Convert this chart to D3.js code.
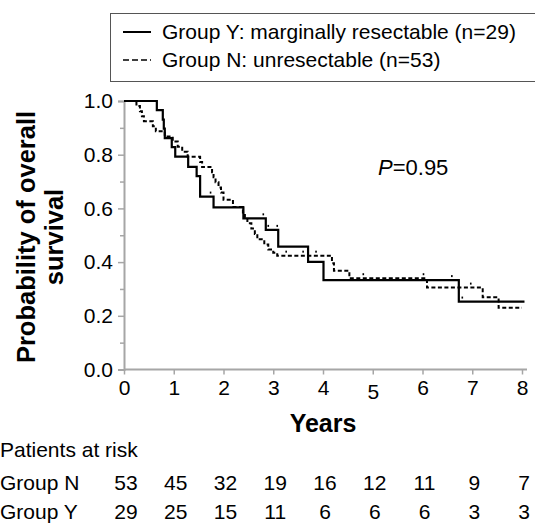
<!DOCTYPE html>
<html>
<head>
<meta charset="utf-8">
<script src="https://cdn.jsdelivr.net/npm/d3@7"></script>
<style>
  html, body { margin: 0; padding: 0; background: #fff; }
  svg { display: block; font-family: "Liberation Sans", Arial, sans-serif; }
</style>
</head>
<body>
<svg id="chart" width="535" height="525"></svg>
<script>
// ---- data ----
const xTicks = [0, 1, 2, 3, 4, 5, 6, 7, 8];
const yTicksMajor = [0, 0.2, 0.4, 0.6, 0.8, 1.0];
const yTicksMinor = [0.1, 0.3, 0.5, 0.7, 0.9];

// Group Y: marginally resectable (solid)
const groupYTimes = [0, 0.66, 0.78, 0.80, 0.82, 0.96, 1.03, 1.29, 1.46, 1.53, 1.80, 2.40, 2.85, 3.10, 3.70, 4.01, 6.73, 8.05];
const groupYSurv  = [1, 0.966, 0.931, 0.897, 0.862, 0.828, 0.793, 0.755, 0.72, 0.644, 0.604, 0.563, 0.52, 0.458, 0.401, 0.333, 0.253, 0.253];
const groupYCensor = [1.74, 2.80, 2.90, 3.08, 6.59, 6.80];

// Group N: unresectable (dashed)
const groupNTimes = [0, 0.25, 0.32, 0.36, 0.40, 0.58, 0.64, 0.82, 0.98, 1.08, 1.17, 1.28, 1.53, 1.57, 1.77, 1.80, 1.84, 1.90, 1.95, 2.00, 2.19, 2.39, 2.43, 2.48, 2.56, 2.63, 2.68, 2.82, 2.90, 3.00, 3.08, 4.18, 4.22, 4.53, 6.09, 7.21, 7.53, 8.00];
const groupNSurv  = [1, 0.981, 0.962, 0.943, 0.925, 0.906, 0.887, 0.868, 0.849, 0.83, 0.811, 0.792, 0.773, 0.754, 0.735, 0.716, 0.697, 0.678, 0.659, 0.632, 0.605, 0.585, 0.565, 0.545, 0.525, 0.505, 0.485, 0.466, 0.447, 0.435, 0.424, 0.396, 0.368, 0.34, 0.305, 0.269, 0.23, 0.23];
const groupNCensor = [3.26, 3.60, 3.86, 4.81, 6.02, 6.97];

const riskGroups = ["Group N", "Group Y"];
const riskN = [53, 45, 32, 19, 16, 12, 11, 9, 7];
const riskY = [29, 25, 15, 11, 6, 6, 6, 3, 3];

const legendLabels = ["Group Y: marginally resectable (n=29)", "Group N: unresectable (n=53)"];
const pValueText = "0.95";

// ---- drawing ----
const svg = d3.select("#chart");
const x = d3.scaleLinear().domain([0, 8]).range([124, 522]);
const y = d3.scaleLinear().domain([0, 1]).range([369.5, 101]);
const axisColor = "#a6a6a6";
const fs = 21;

// y axis
const yAxisG = svg.append("g").attr("transform", `translate(${x(0)},0)`);
yAxisG.call(d3.axisLeft(y).tickValues(yTicksMajor).tickSize(6).tickFormat(d3.format(".1f")).tickPadding(5));
yAxisG.append("g").call(d3.axisLeft(y).tickValues(yTicksMinor).tickSize(4).tickFormat(""))
  .select(".domain").remove();
yAxisG.selectAll(".domain").attr("stroke", axisColor).attr("stroke-width", 2);
yAxisG.selectAll(".tick line").attr("stroke", axisColor).attr("stroke-width", 1.5);
yAxisG.selectAll(".tick text").attr("font-size", fs).attr("fill", "#000")
  .attr("font-family", "Liberation Sans, Arial, sans-serif");

// x axis
const xAxisG = svg.append("g").attr("transform", `translate(0,${y(0)})`);
xAxisG.call(d3.axisBottom(x).tickValues(xTicks).tickSize(5).tickFormat(d3.format("d")).tickPadding(6));
xAxisG.select(".domain").attr("stroke", axisColor).attr("stroke-width", 2)
  .attr("d", `M${x(0)},0H${x(8) + 5}`);
xAxisG.selectAll(".tick line").attr("stroke", axisColor).attr("stroke-width", 1.5);
xAxisG.selectAll(".tick text").attr("font-size", fs).attr("fill", "#000")
  .attr("font-family", "Liberation Sans, Arial, sans-serif")
  .attr("dy", d => d === 5 ? "0.86em" : "0.71em");

// axis titles
svg.append("text").attr("x", x(4)).attr("y", 432).attr("text-anchor", "middle")
  .attr("font-size", 25).attr("font-weight", "bold").text("Years");
const yt = svg.append("text").attr("transform", `translate(35,237) rotate(-90)`)
  .attr("text-anchor", "middle").attr("font-size", 25.5).attr("font-weight", "bold");
yt.append("tspan").attr("x", 0).attr("y", 0).text("Probability of overall");
yt.append("tspan").attr("x", 0).attr("y", 28).text("survival");

// curves
const line = d3.line().x(d => x(d[0])).y(d => y(d[1])).curve(d3.curveStepAfter);
const pts = (t, s) => t.map((v, i) => [v, s[i]]);
const stepAt = (t, s, v) => s[d3.bisectRight(t, v) - 1];

svg.append("path").datum(pts(groupNTimes, groupNSurv)).attr("d", line)
  .attr("fill", "none").attr("stroke", "#000").attr("stroke-width", 2)
  .attr("stroke-dasharray", "4,2.5");
svg.append("path").datum(pts(groupYTimes, groupYSurv)).attr("d", line)
  .attr("fill", "none").attr("stroke", "#000").attr("stroke-width", 2.2);

// censor marks
function censor(times, t, s) {
  svg.append("g").selectAll("rect").data(times).join("rect")
    .attr("x", d => x(d) - 0.8).attr("y", d => y(stepAt(t, s, d)) - 5)
    .attr("width", 1.6).attr("height", 2).attr("fill", "#000");
}
censor(groupYCensor, groupYTimes, groupYSurv);
censor(groupNCensor, groupNTimes, groupNSurv);

// P value
const pt = svg.append("text").attr("x", 378).attr("y", 175).attr("font-size", 22);
pt.append("tspan").attr("font-style", "italic").text("P");
pt.append("tspan").text("=" + pValueText);

// legend
svg.append("rect").attr("x", 110.5).attr("y", 13.5).attr("width", 440).attr("height", 68)
  .attr("fill", "none").attr("stroke", "#555").attr("stroke-width", 1);
const legendY = [32, 60];
legendLabels.forEach((lab, i) => {
  svg.append("line").attr("x1", 123).attr("x2", 151).attr("y1", legendY[i]).attr("y2", legendY[i])
    .attr("stroke", "#000").attr("stroke-width", i === 0 ? 2 : 1.6)
    .attr("stroke-dasharray", i === 0 ? null : "6,3");
  svg.append("text").attr("x", 162).attr("y", legendY[i]).attr("dy", "0.35em")
    .attr("font-size", fs).text(lab);
});

// patients at risk
svg.append("text").attr("x", 0).attr("y", 450).attr("dy", "0.35em").attr("font-size", fs).text("Patients at risk");
const riskRows = [riskN, riskY];
const riskRowY = [483, 512];
riskRows.forEach((row, r) => {
  svg.append("text").attr("x", 0).attr("y", riskRowY[r]).attr("dy", "0.35em")
    .attr("font-size", fs).text(riskGroups[r]);
  svg.append("g").selectAll("text").data(row).join("text")
    .attr("x", (d, i) => x(xTicks[i]) + 2).attr("y", riskRowY[r]).attr("dy", "0.35em")
    .attr("text-anchor", "middle").attr("font-size", fs).text(d => d);
});
</script>
</body>
</html>
